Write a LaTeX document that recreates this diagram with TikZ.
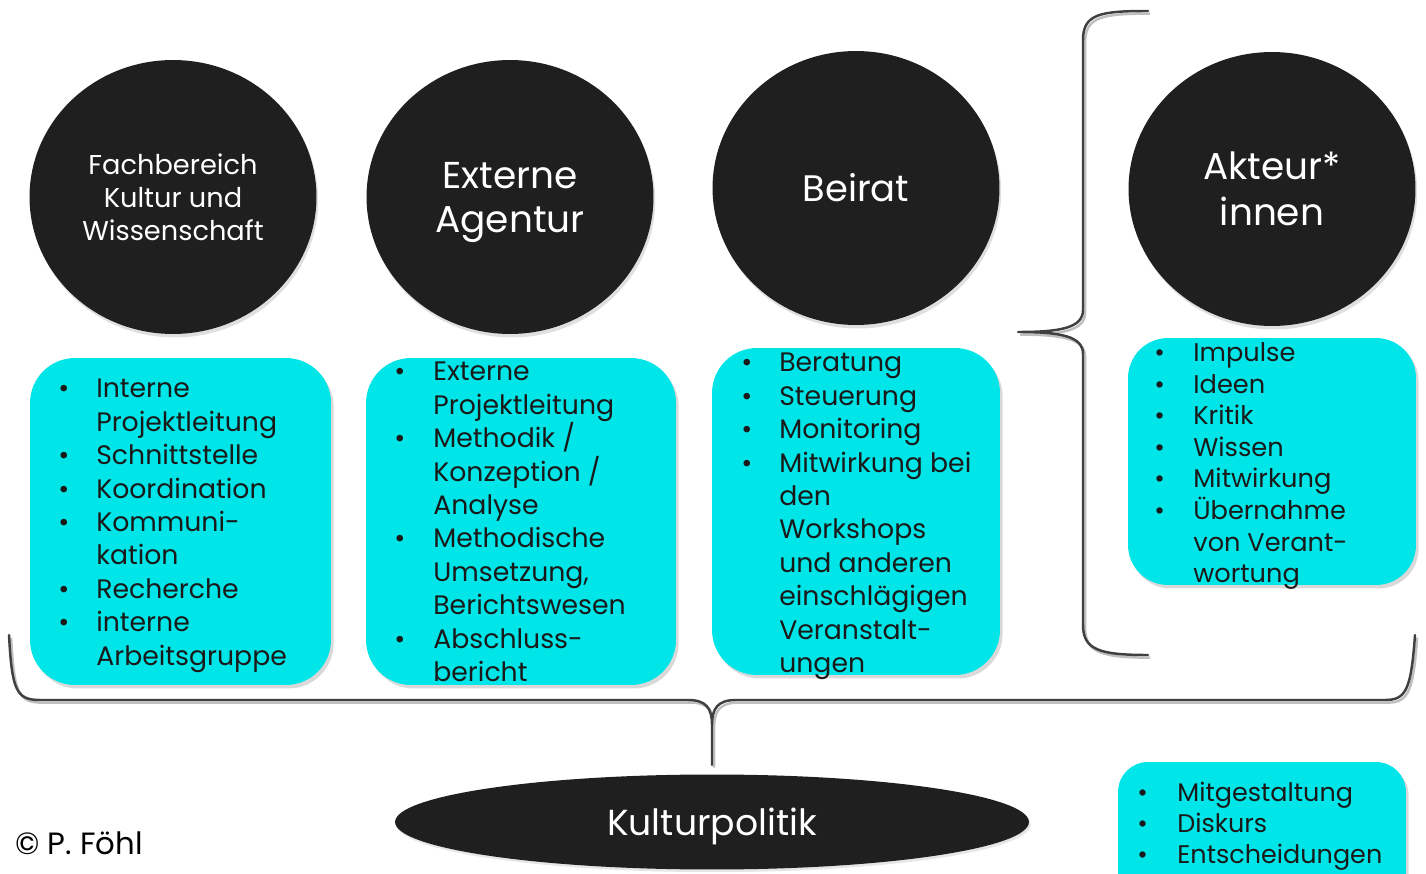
\documentclass[tikz,border=0pt]{standalone}
\usepackage{fontspec}
\setmainfont{Poppins}
\usetikzlibrary{shapes.geometric,shadows}

\definecolor{kreis}{HTML}{1F1F1F}
\definecolor{tuerkis}{HTML}{00E5E8}
\definecolor{klammer}{HTML}{404040}

\tikzset{
  kreis/.style={ellipse, fill=kreis, text=white, align=center, inner sep=0pt,
    minimum width=5.74cm, minimum height=5.48cm,
    drop shadow={opacity=.25, shadow xshift=1pt, shadow yshift=-2pt}},
  kasten/.style={rounded corners=0.9cm, fill=tuerkis, inner sep=0pt,
    drop shadow={opacity=.3, shadow xshift=1.5pt, shadow yshift=-2pt}},
  liste/.style={anchor=base west, inner sep=0pt, text=black!90},
  klammer/.style={draw=klammer, line width=1.4pt, line join=round, line cap=round,
    preaction={draw=black!25, line width=1.4pt, transform canvas={shift={(1.2pt,-1.5pt)}}}},
}

\begin{document}
\begin{tikzpicture}[x=0.02cm, y=-0.02cm]
  \useasboundingbox (0,0) rectangle (1426,874);

  % die vier Kreise
  \node[kreis, font=\fontsize{15.5}{18.9}\selectfont] (fb) at (173,197)
    {Fachbereich\\Kultur und\\Wissenschaft};
  \node[kreis, text depth=0pt, font=\fontsize{21.3}{25}\selectfont] (ag) at (510,197)
    {Externe\\Agentur};
  \node[kreis, font=\fontsize{21}{25}\selectfont] (br) at (856,188)
    {Beirat};
  \node[kreis, font=\fontsize{21.3}{26}\selectfont] (ak) at (1272,189)
    {Akteur*\\innen};

  % Kaesten
  \node[kasten, minimum width=6.02cm, minimum height=6.54cm] (b1) at (180.5,521.5) {};
  \node[kasten, minimum width=6.2cm, minimum height=6.54cm] (b2) at (521,521.5) {};
  \node[kasten, minimum width=5.76cm, minimum height=6.54cm] (b3) at (856,511.5) {};
  \node[kasten, rounded corners=0.8cm, minimum width=5.76cm, minimum height=4.94cm] (b4) at (1272,461.5) {};
  \node[kasten, rounded corners=0.6cm, minimum width=5.76cm, minimum height=2.96cm] (b5) at (1262,836) {};

  \node[liste, font=\fontsize{15.2}{19}\selectfont] (l1) at (58,398) {%
    \begin{tabular}[t]{@{}p{21.6pt}@{}l@{}}
    \textbullet & Interne\\ & Projektleitung\\
    \textbullet & Schnittstelle\\
    \textbullet & Koordination\\
    \textbullet & Kommuni-\\ & kation\\
    \textbullet & Recherche\\
    \textbullet & interne\\ & Arbeitsgruppe
    \end{tabular}};
  \node[liste, font=\fontsize{15.2}{19}\selectfont] (l2) at (394,381) {%
    \begin{tabular}[t]{@{}p{22.2pt}@{}l@{}}
    \textbullet & Externe\\ & Projektleitung\\
    \textbullet & Methodik \smash{/}\\ & Konzeption \smash{/}\\ & Analyse\\
    \textbullet & Methodische\\ & Umsetzung,\\ & Berichtswesen\\
    \textbullet & Abschluss-\\ & bericht
    \end{tabular}};
  \node[liste, font=\fontsize{15.2}{19}\selectfont] (l3) at (741,372) {%
    \begin{tabular}[t]{@{}p{21.6pt}@{}l@{}}
    \textbullet & Beratung\\
    \textbullet & Steuerung\\
    \textbullet & Monitoring\\
    \textbullet & Mitwirkung bei\\ & den\\ & Workshops\\ & und anderen\\
      & einschlägigen\\ & Veranstalt-\\ & ungen
    \end{tabular}};
  \node[liste, font=\fontsize{14.6}{17.9}\selectfont] (l4) at (1154,362) {%
    \begin{tabular}[t]{@{}p{22.2pt}@{}l@{}}
    \textbullet & Impulse\\
    \textbullet & Ideen\\
    \textbullet & Kritik\\
    \textbullet & Wissen\\
    \textbullet & Mitwirkung\\
    \textbullet & Übernahme\\ & von Verant-\\ & wortung
    \end{tabular}};
  \node[liste, font=\fontsize{14.5}{17.9}\selectfont] (l5) at (1137,801) {%
    \begin{tabular}[t]{@{}p{22.8pt}@{}l@{}}
    \textbullet & Mitgestaltung\\
    \textbullet & Diskurs\\
    \textbullet & Entscheidungen
    \end{tabular}};

  % Kulturpolitik
  \node[ellipse, fill=kreis, text=white, inner sep=0pt, minimum width=12.68cm,
    minimum height=1.9cm, text depth=0pt, font=\fontsize{20.6}{24}\selectfont,
    drop shadow={opacity=.2, shadow xshift=1pt, shadow yshift=-1.5pt}] (kp) at (712,822) {Kulturpolitik};
  \node[anchor=west, inner sep=0pt, font=\fontsize{17.5}{21}\selectfont] (cr) at (15,843) {© P. Föhl};

  % Klammern
  \coordinate (ul) at (9,635);
  \coordinate (ur) at (1415,635);
  \coordinate (um) at (712,765);
  \draw[klammer] (ul) .. controls (12,690) and (16,700) .. (40,700) -- (688,700)
    .. controls (706,700) and (712,708) .. (712,725) -- (um)
    (712,725) .. controls (712,708) and (718,700) .. (736,700) -- (1385,700)
    .. controls (1406,700) and (1411,690) .. (ur);
  \coordinate (ro) at (1148,11);
  \coordinate (rs) at (1018,332);
  \coordinate (ru) at (1148,655);
  \draw[klammer] (ro) .. controls (1100,11) and (1083,14) .. (1083,40) -- (1083,310)
    .. controls (1083,328) and (1060,332) .. (rs)
    .. controls (1060,332) and (1083,336) .. (1083,354) -- (1083,625)
    .. controls (1083,650) and (1100,655) .. (ru);
\end{tikzpicture}
\end{document}
